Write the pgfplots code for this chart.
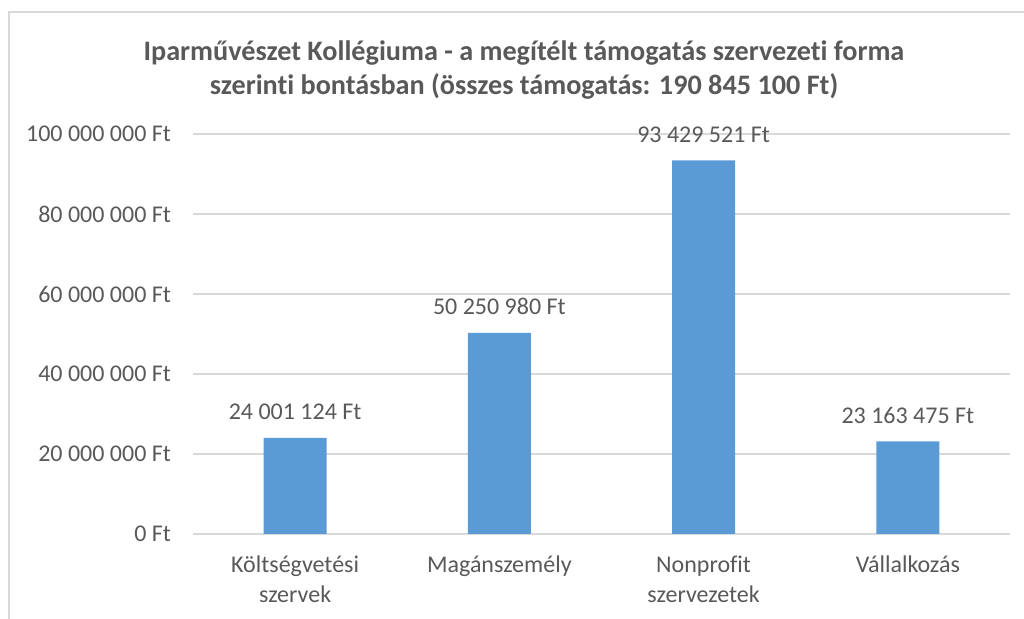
\documentclass[border=0pt]{standalone}
\usepackage{fontspec}
\setmainfont{Carlito}[Ligatures={NoCommon}]
\usepackage{pgfplots}
\pgfplotsset{compat=1.18}
\definecolor{barblue}{HTML}{5B9BD5}
\definecolor{txt}{HTML}{595959}
\definecolor{gridc}{HTML}{D9D9D9}
\begin{document}
\begin{tikzpicture}
\useasboundingbox (0,0) rectangle (512pt,309.5pt);
\draw[gridc, line width=0.75pt] (4.5pt,0pt) -- (4.5pt,303.5pt) -- (512pt,303.5pt);
\node[anchor=base, text=txt, font=\fontsize{14.1}{17}\selectfont\bfseries] at (262pt,279pt) {Iparművészet Kollégiuma - a megítélt támogatás szervezeti forma};
\node[anchor=base, text=txt, font=\fontsize{14.1}{17}\selectfont\bfseries] at (262pt,262pt) {szerinti bontásban (összes támogatás: 190 845 100 Ft)};
\begin{axis}[
  at={(96.5pt,42.5pt)}, anchor=south west,
  scale only axis, width=408.5pt, height=200pt,
  xmin=-0.5, xmax=3.5, ymin=0, ymax=100000000,
  scaled y ticks=false,
  axis line style={draw=none},
  major tick length=0pt,
  ymajorgrids, grid style={gridc, line width=0.75pt},
  ytick={0,20000000,40000000,60000000,80000000,100000000},
  yticklabels={0 Ft,20 000 000 Ft,40 000 000 Ft,60 000 000 Ft,80 000 000 Ft,100 000 000 Ft},
  xtick={0,1,2,3},
  xticklabels={Költségvetési\\szervek,Magánszemély,Nonprofit\\szervezetek,Vállalkozás},
  tick label style={font=\fontsize{12}{15}\selectfont, text=txt},
  yticklabel style={xshift=-7.5pt},
  xticklabel style={align=center, anchor=north, yshift=-7.5pt},
  ybar, bar width=31.5pt, bar shift=0pt,
  point meta=explicit symbolic,
  nodes near coords,
  every node near coord/.append style={font=\fontsize{12}{14}\selectfont, text=txt, anchor=base, yshift=9pt},
]
\addplot[fill=barblue, draw=none] coordinates {
  (0,24001124) [24 001 124 Ft]
  (1,50250980) [50 250 980 Ft]
  (2,93429521) [93 429 521 Ft]
  (3,23163475) [23 163 475 Ft]
};
\end{axis}
\end{tikzpicture}
\end{document}
